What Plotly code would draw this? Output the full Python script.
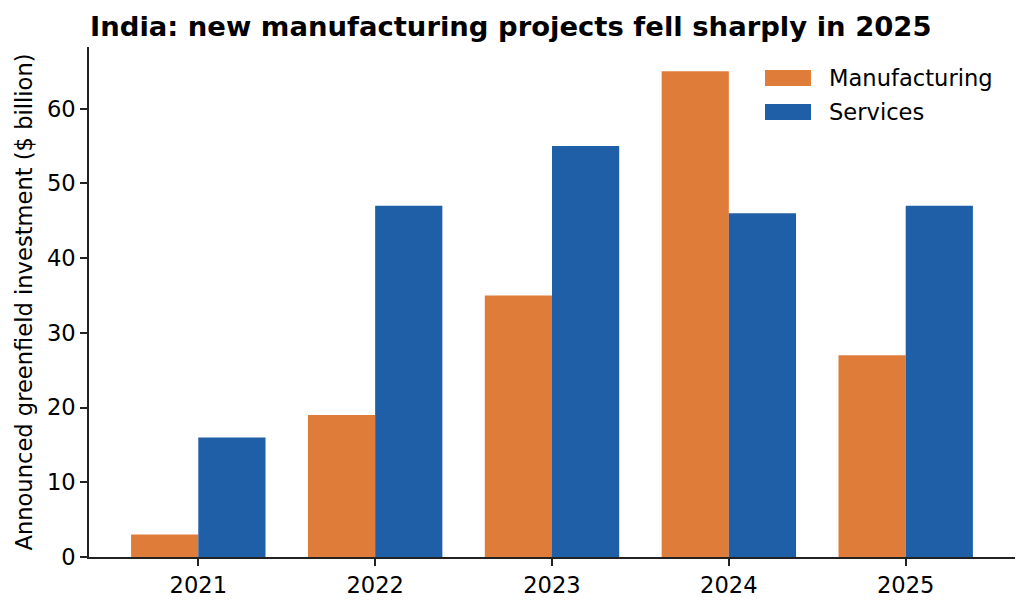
import plotly.graph_objects as go

years = ["2021", "2022", "2023", "2024", "2025"]
manufacturing = [3, 19, 35, 65, 27]
services = [16, 47, 55, 46, 47]
series_names = ["Manufacturing", "Services"]
colors = ["#DF7C3A", "#1F5FA8"]

FONT = "DejaVu Sans"
AX = "#222222"
FS = 22.6
xpos = list(range(len(years)))

fig = go.Figure()
fig.add_trace(go.Bar(x=xpos, y=manufacturing, name=series_names[0],
                     marker=dict(color=colors[0], line=dict(width=0))))
fig.add_trace(go.Bar(x=xpos, y=services, name=series_names[1],
                     marker=dict(color=colors[1], line=dict(width=0))))

L, R, T, B = 89, 15, 47, 53
W, H = 1030, 610
pw, ph = W - L - R, H - T - B

fig.update_layout(
    width=W, height=H,
    margin=dict(l=L, r=R, t=T, b=B, pad=0),
    barmode="group", bargap=0.24, bargroupgap=0,
    plot_bgcolor="white", paper_bgcolor="white",
    font=dict(family=FONT, size=FS, color="black"),
    showlegend=False,
)
fig.update_xaxes(
    range=[-0.618, 4.618], tickvals=xpos, ticktext=years,
    showline=True, linecolor=AX, linewidth=1.6, mirror=False,
    ticks="outside", ticklen=7, tickwidth=1.6, tickcolor=AX,
    showgrid=False, zeroline=False, fixedrange=True,
    tickfont=dict(size=FS, color="black"),
)
fig.update_yaxes(
    range=[0, 68.25], tickvals=[0, 10, 20, 30, 40, 50, 60],
    showline=True, linecolor=AX, linewidth=1.6,
    ticks="outside", ticklen=7, tickwidth=1.6, tickcolor=AX,
    showgrid=False, zeroline=False,
    tickfont=dict(size=FS, color="black"),
    title=dict(text="Announced greenfield investment ($ billion)",
               font=dict(size=FS, color="black"), standoff=8),
)

# Title
fig.add_annotation(
    text="<b>India: new manufacturing projects fell sharply in 2025</b>",
    xref="paper", yref="paper", x=0, y=1, xanchor="left", yanchor="bottom",
    yshift=3, xshift=-1, showarrow=False,
    font=dict(size=27.45, color="black", family=FONT),
)

# Manual legend (matplotlib-style patches)
leg_x0 = (765 - L) / pw
leg_x1 = (811 - L) / pw
txt_x = (827 - L) / pw
for i, (name, col) in enumerate(zip(series_names, colors)):
    top = 70 + i * 34
    y0 = (H - B - (top + 16)) / ph
    y1 = (H - B - top) / ph
    fig.add_shape(type="rect", xref="paper", yref="paper",
                  x0=leg_x0, x1=leg_x1, y0=y0, y1=y1,
                  fillcolor=col, line=dict(width=0))
    fig.add_annotation(text=name, xref="paper", yref="paper",
                       x=txt_x, y=(y0 + y1) / 2, xanchor="left", yanchor="middle",
                       showarrow=False, font=dict(size=FS, color="black", family=FONT))

fig.write_html("out.html")
